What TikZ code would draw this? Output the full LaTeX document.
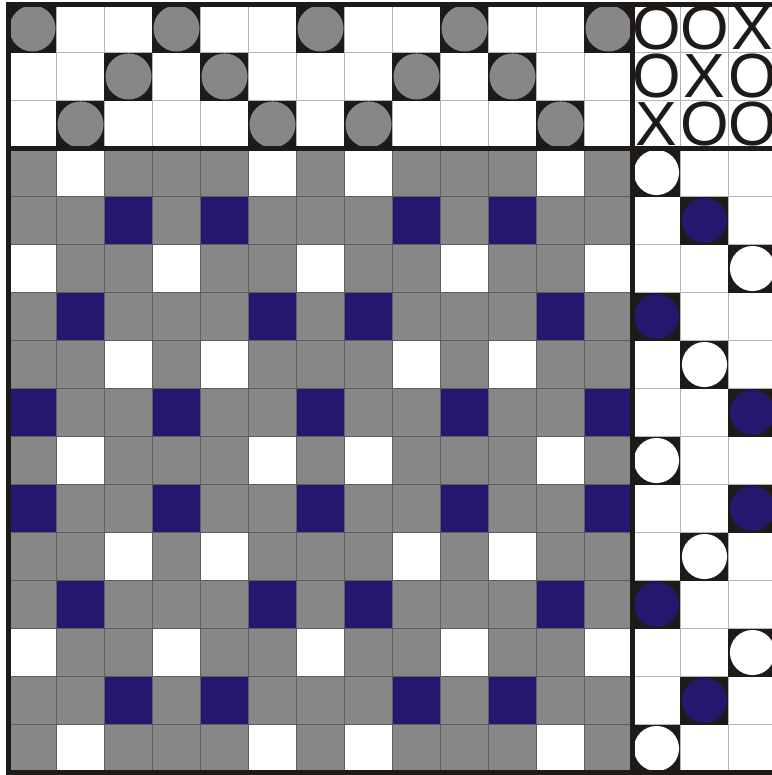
\documentclass[tikz,border=0pt]{standalone}
\usepackage{fontspec}
\setmainfont{Liberation Sans}
\definecolor{cwarp}{HTML}{878787}
\definecolor{cweft}{HTML}{26176E}
\definecolor{cink}{HTML}{1E1A17}
\definecolor{cpale}{HTML}{B4B4B4}
\definecolor{cgrid}{HTML}{5E5E5E}
\tikzset{
  every picture/.style={line width=0.9pt},
  frame/.style={draw=cink, line width=3pt},
  pale grid/.style={draw=cpale, line width=0.9pt},
  dark grid/.style={draw=cgrid, line width=0.9pt},
  tiemark/.style={inner sep=0pt, text=cink, font=\fontsize{37}{37}\selectfont},
}
\newcommand{\threading}{1,3,2,1,2,3,1,3,2,1,2,3,1}
\newcommand{\treadling}{1,2,3,1,2,3,1,3,2,1,3,2,1}

\begin{document}
\begin{tikzpicture}
  \useasboundingbox (-0.177,0.094) rectangle (15.906,-16.052);
  \clip (-0.177,0.094) rectangle (15.906,-16.052);
  % drawdown: warp shows unless the treadle lifts the weft
  \fill[cwarp] (0,-3) rectangle (13,-16);
  \foreach \s [count=\c] in \threading {
    \foreach \t [count=\r] in \treadling {
      \ifnum\numexpr\s+\t\relax=4
        \ifodd\r \def\wc{white}\else \def\wc{cweft}\fi
        \fill[\wc] (\c-1,-2-\r) rectangle (\c,-3-\r);
      \fi
    }
  }
  \draw[dark grid] (0,-3) grid (13,-16);
  % threading
  \draw[pale grid] (0,0) grid (13,-3);
  \foreach \s [count=\c] in \threading {
    \fill[cink] (\c-1,1-\s) rectangle (\c,-\s);
    \fill[cwarp] (\c-0.5,0.5-\s) circle (0.48);
  }
  % treadling
  \draw[pale grid] (13,-3) grid (16,-16);
  \foreach \t [count=\r] in \treadling {
    \ifodd\r \def\wc{white}\else \def\wc{cweft}\fi
    \fill[cink] (12+\t,-2-\r) rectangle (13+\t,-3-\r);
    \fill[\wc] (12.5+\t,-2.5-\r) circle (0.47);
  }
  % tie-up
  \draw[pale grid] (13,0) grid (16,-3);
  \foreach \s in {1,2,3} {
    \foreach \t in {1,2,3} {
      \ifnum\numexpr\s+\t\relax=4 \def\tm{X}\else \def\tm{O}\fi
      \node[tiemark] (tie-\s-\t) at (12.5+\t,0.5-\s) {\tm};
    }
  }
  % frame
  \draw[frame] (16.5,0) -- (0,0) -- (0,-16) -- (16.5,-16);
  \draw[frame] (13,0) -- (13,-16);
  \draw[frame] (0,-3) -- (16.5,-3);
\end{tikzpicture}
\end{document}
